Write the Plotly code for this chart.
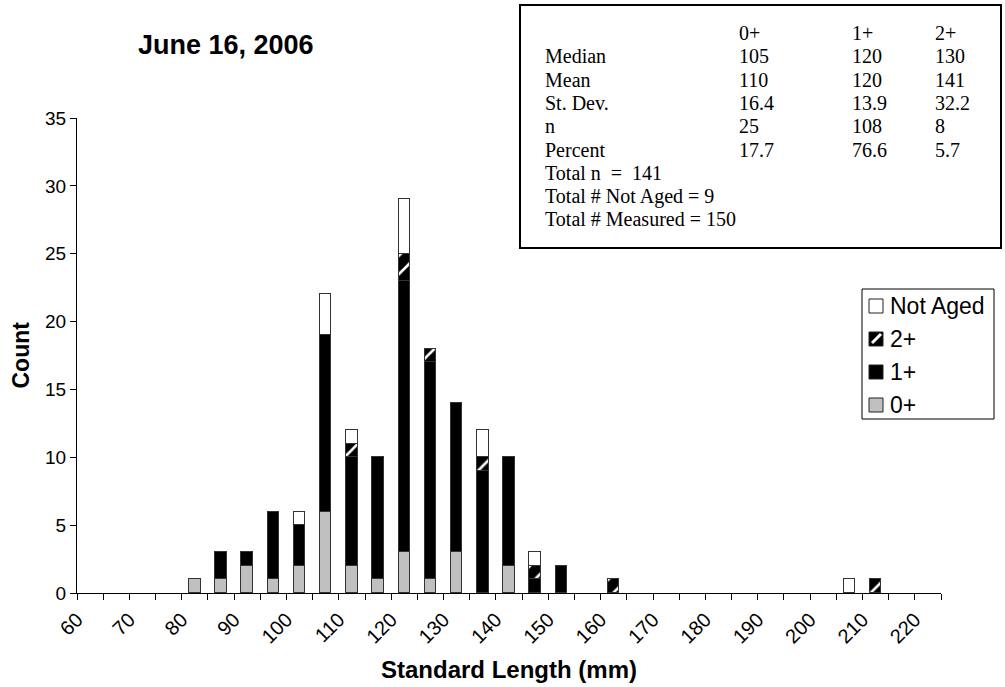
import plotly.graph_objects as go

# ---------------- data ----------------
bin_start = [80, 85, 90, 95, 100, 105, 110, 115, 120, 125, 130, 135, 140, 145, 150, 160, 205, 210]
age0 = [1, 1, 2, 1, 2, 6, 2, 1, 3, 1, 3, 0, 2, 0, 0, 0, 0, 0]
age1 = [0, 2, 1, 5, 3, 13, 8, 9, 20, 16, 11, 9, 8, 1, 2, 0, 0, 0]
age2 = [0, 0, 0, 0, 0, 0, 1, 0, 2, 1, 0, 1, 0, 1, 0, 1, 0, 1]
not_aged = [0, 0, 0, 0, 1, 3, 1, 0, 4, 0, 0, 2, 0, 1, 0, 0, 1, 0]

tick_labels = [str(v) for v in range(60, 221, 10)]

table_cols = ["0+", "1+", "2+"]
table_rows = ["Median", "Mean", "St. Dev.", "n", "Percent"]
table_vals = [
    ["105", "120", "130"],
    ["110", "120", "141"],
    ["16.4", "13.9", "32.2"],
    ["25", "108", "8"],
    ["17.7", "76.6", "5.7"],
]
table_footer = ["Total n  =  141", "Total # Not Aged = 9", "Total # Measured = 150"]

legend_names = ["Not Aged", "2+", "1+", "0+"]

title_text = "June 16, 2006"
x_title = "Standard Length (mm)"
y_title = "Count"

# ---------------- layout helpers ----------------
W, H = 1005, 687
L, R, T, B = 77, 941, 118, 593


def px(x):
    return (x - L) / (R - L)


def py(y):
    return (B - y) / (B - T)


def nz(vals):
    return [v if v else None for v in vals]


centers = [b + 2.5 for b in bin_start]
bar_w = 2.2
outline = dict(color="#333333", width=1)
GRAY = "#C0C0C0"

hatch = dict(shape="/", fgcolor="#FFFFFF", bgcolor="#000000",
             fillmode="replace", size=13, solidity=0.2)

fig = go.Figure()
fig.add_trace(go.Bar(x=centers, y=nz(age0), name="0+", width=bar_w,
                     marker=dict(color=GRAY, line=outline)))
fig.add_trace(go.Bar(x=centers, y=nz(age1), name="1+", width=bar_w,
                     marker=dict(color="#000000", line=outline)))
fig.add_trace(go.Bar(x=centers, y=nz(age2), name="2+", width=bar_w,
                     marker=dict(color="#000000", line=outline, pattern=hatch)))
fig.add_trace(go.Bar(x=centers, y=nz(not_aged), name="Not Aged", width=bar_w,
                     marker=dict(color="#FFFFFF", line=outline)))

fig.update_layout(
    width=W, height=H,
    barmode="stack",
    plot_bgcolor="white", paper_bgcolor="white",
    margin=dict(l=L, r=W - R, t=T, b=H - B, autoexpand=False),
    font=dict(family="Liberation Sans, Arial, sans-serif", color="black", size=19),
    showlegend=False,
    bargap=0,
)

fig.update_xaxes(
    range=[60, 225], showline=True, linecolor="black", linewidth=1,
    tickmode="array", tickvals=list(range(60, 221, 10)), ticktext=tick_labels,
    ticks="outside", ticklen=6, tickcolor="black", tickangle=-45,
    tickfont=dict(size=20),
    minor=dict(dtick=5, tick0=60, ticks="outside", ticklen=6, tickcolor="black", showgrid=False),
    showgrid=False, zeroline=False,
)
fig.update_yaxes(
    range=[0, 35], dtick=5, showline=True, linecolor="black", linewidth=1,
    ticks="outside", ticklen=6, tickcolor="black", tickfont=dict(size=19),
    showgrid=False, zeroline=False,
)

bold_sans = "Liberation Sans, Arial, sans-serif"

# titles
fig.add_annotation(text="<b>" + title_text + "</b>", xref="paper", yref="paper",
                   x=px(226), y=py(45), xanchor="center", yanchor="middle",
                   showarrow=False, font=dict(size=27, family=bold_sans))
fig.add_annotation(text="<b>" + x_title + "</b>", xref="paper", yref="paper",
                   x=0.5, y=py(669), xanchor="center", yanchor="middle",
                   showarrow=False, font=dict(size=24, family=bold_sans))
fig.add_annotation(text="<b>" + y_title + "</b>", xref="paper", yref="paper",
                   x=px(20), y=0.5, xanchor="center", yanchor="middle", textangle=-90,
                   showarrow=False, font=dict(size=23, family=bold_sans))

# ---------------- manual legend ----------------
fig.add_shape(type="rect", xref="paper", yref="paper",
              x0=px(862), x1=px(994), y0=py(419), y1=py(289),
              line=dict(color="black", width=1), fillcolor="white", layer="above")
leg_y = [306, 339, 372, 405]
leg_fill = ["#FFFFFF", "#000000", "#000000", GRAY]
for name, yy, fc in zip(legend_names, leg_y, leg_fill):
    fig.add_shape(type="rect", xref="paper", yref="paper",
                  x0=px(869), x1=px(883), y0=py(yy + 7), y1=py(yy - 7),
                  line=dict(color="#222222", width=1), fillcolor=fc, layer="above")
    if name == "2+":
        fig.add_shape(type="line", xref="paper", yref="paper",
                      x0=px(872), y0=py(yy + 4), x1=px(881), y1=py(yy - 5),
                      line=dict(color="white", width=3), layer="above")
    fig.add_annotation(text=name, xref="paper", yref="paper", x=px(888), y=py(yy),
                       xanchor="left", yanchor="middle", showarrow=False,
                       font=dict(size=23, family=bold_sans))

# ---------------- stats table ----------------
fig.add_shape(type="rect", xref="paper", yref="paper",
              x0=px(520), x1=px(1001), y0=py(248), y1=py(5),
              line=dict(color="black", width=2), fillcolor="white", layer="above")

serif = dict(family="Liberation Serif, Times New Roman, serif", size=20, color="black")
col_x = [737, 850, 933]
row0_y = 33
row_dy = 23.3
for j, c in enumerate(table_cols):
    fig.add_annotation(text=c, xref="paper", yref="paper", x=px(col_x[j]), y=py(row0_y),
                       xanchor="left", yanchor="middle", showarrow=False, font=serif)
for i, rname in enumerate(table_rows):
    yy = row0_y + (i + 1) * row_dy
    fig.add_annotation(text=rname, xref="paper", yref="paper", x=px(543), y=py(yy),
                       xanchor="left", yanchor="middle", showarrow=False, font=serif)
    for j, v in enumerate(table_vals[i]):
        fig.add_annotation(text=v, xref="paper", yref="paper", x=px(col_x[j]), y=py(yy),
                           xanchor="left", yanchor="middle", showarrow=False, font=serif)
for k, f in enumerate(table_footer):
    yy = row0_y + (len(table_rows) + 1 + k) * row_dy
    fig.add_annotation(text=f, xref="paper", yref="paper", x=px(543), y=py(yy),
                       xanchor="left", yanchor="middle", showarrow=False, font=serif)

fig.write_html("out.html", config={"displayModeBar": False},
               post_script="document.body.style.margin='0';document.body.style.padding='0';")
